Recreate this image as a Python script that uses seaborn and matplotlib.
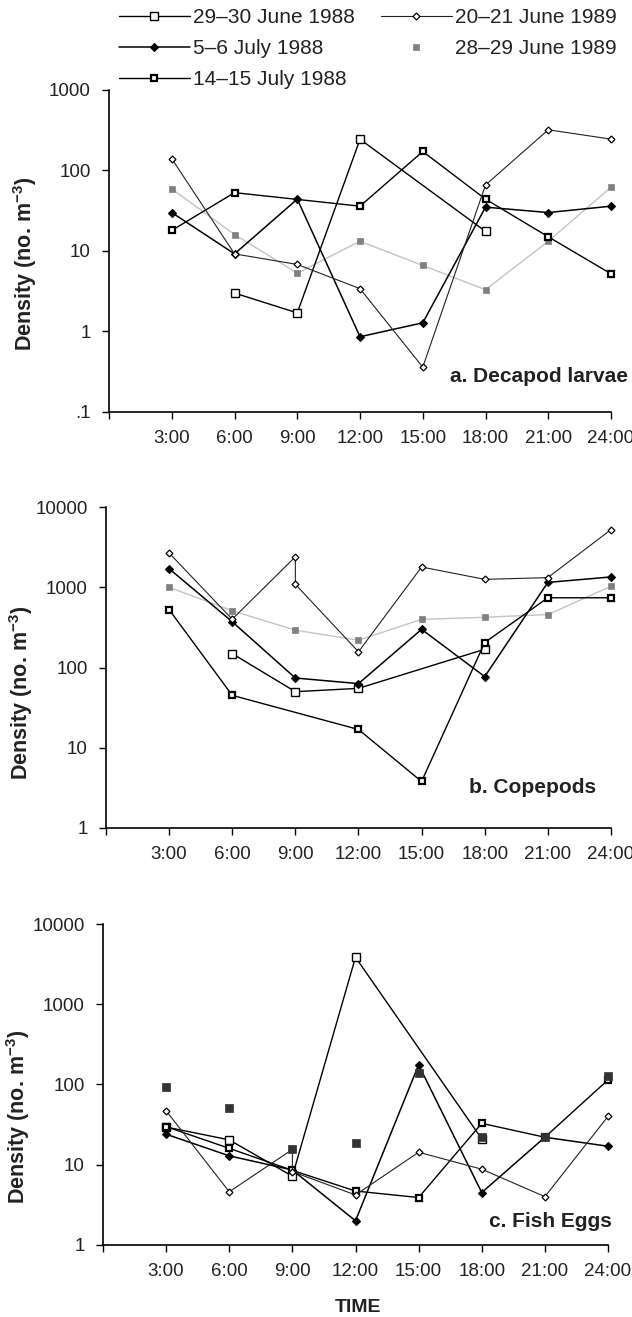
import matplotlib
matplotlib.use("Agg")
import matplotlib.pyplot as plt
from matplotlib.lines import Line2D
from matplotlib.ticker import NullLocator
import seaborn as sns

# --- data (densities, no. m^-3) ---
HOURS = [3, 6, 9, 12, 15, 18, 21, 24]
HOURS_9X2 = [3, 6, 9, 9, 12, 15, 18, 21, 24]   # 20-21 June 1989 sampled twice near 9:00
JUN88_HOURS_AB = [6, 9, 12, 18]
JUN88_HOURS_C = [3, 6, 9, 12, 18]
JUL14_HOURS_AB = [3, 6, 12, 15, 18, 21, 24]
TIME_LABELS = ["3:00", "6:00", "9:00", "12:00", "15:00", "18:00", "21:00", "24:00"]

SERIES = ["29\u201330 June 1988", "5\u20136 July 1988", "14\u201315 July 1988",
          "20\u201321 June 1989", "28\u201329 June 1989"]

# a. Decapod larvae
a_jun88 = [3.0, 1.7, 244, 17.5]
a_jul5 = [30, 9.2, 44, 0.86, 1.28, 35, 30, 36]
a_jul14 = [18, 53, 36, 172, 44, 15, 5.2]
a_jun20 = [140, 9.2, 6.8, 3.4, 0.36, 66, 320, 245]
a_jun28 = [59, 16, 5.3, 13.2, 6.6, 3.3, 13.2, 62]

# b. Copepods
b_jun88 = [149, 50, 55, 169]
b_jul5 = [1707, 372, 74, 63, 299, 77, 1150, 1345]
b_jul14 = [527, 45, 16.9, 3.8, 205, 740, 740]
b_jun20 = [2675, 400, 2400, 1090, 157, 1790, 1255, 1320, 5225]
b_jun28 = [1000, 510, 292, 219, 398, 423, 457, 1028]

# c. Fish eggs
c_jun88 = [29.5, 20.4, 7.2, 3850, 21]
c_jul5 = [24, 12.9, 8.6, 2.0, 176, 4.5, 22, 17]
c_jul14 = [29.8, 16, 8.5, 4.7, 3.9, 32.8, 22, 114]
c_jun20 = [47, 4.6, 15.5, 8.2, 4.2, 14.3, 8.8, 4.0, 40]
c_jun28 = [94, 51, 15.5, 18.5, 138, 22.4, 22, 126]

# --- styles ---
STYLES = {
    "jun88": dict(marker="s", markersize=5.5, markerfacecolor="white", markeredgecolor="black",
                  markeredgewidth=1.0, color="black", linewidth=1.0),
    "jul5": dict(marker="D", markersize=4, markerfacecolor="black", markeredgecolor="black",
                 markeredgewidth=0.8, color="black", linewidth=1.1),
    "jul14": dict(marker="s", markersize=4.5, markerfacecolor="white", markeredgecolor="black",
                  markeredgewidth=1.6, color="black", linewidth=1.0),
    "jun20": dict(marker="D", markersize=3.5, markerfacecolor="white", markeredgecolor="black",
                  markeredgewidth=0.9, color="#222222", linewidth=0.8),
    "jun28": dict(marker="s", markersize=5, markerfacecolor="#808080", markeredgecolor="#808080",
                  markeredgewidth=0.5, color="#c4c4c4", linewidth=1.0),
}

sns.set_style("ticks")
plt.rcParams["font.family"] = ["Liberation Sans", "DejaVu Sans"]
plt.rcParams["mathtext.default"] = "regular"


def draw(ax, x, y, key, z):
    sns.lineplot(x=x, y=y, ax=ax, estimator=None, sort=False, zorder=z,
                 clip_on=False, **STYLES[key])


def style_axes(ax, ticks, ticklabels, label_y, panel_text, tx, ty):
    ax.set_yscale("log")
    ax.set_ylim(ticks[0], ticks[-1])
    ax.set_xlim(0, 24)
    ax.set_yticks(ticks)
    ax.set_yticklabels(ticklabels)
    ax.yaxis.set_minor_locator(NullLocator())
    ax.set_xticks([0] + HOURS)
    ax.set_xticklabels([""] + TIME_LABELS)
    sns.despine(ax=ax)
    for s in ("left", "bottom"):
        ax.spines[s].set_linewidth(1.2)
        ax.spines[s].set_color("black")
    ax.tick_params(length=5, width=1, labelsize=13.5, pad=8, color="black", labelcolor="#222222")
    ax.set_xlabel("")
    ax.set_ylabel("Density (no. m$^{-3}$)", fontsize=15.5, fontweight="bold", color="#222222")
    ax.yaxis.set_label_coords(-0.14, label_y)
    ax.text(tx, ty, panel_text, transform=ax.transAxes, ha="right", va="center",
            fontsize=15, fontweight="bold", color="#222222")


fig = plt.figure(figsize=(6.32, 13.17), dpi=100)
ax_a = fig.add_axes([0.1725, 0.6872, 0.7943, 0.2445])
ax_b = fig.add_axes([0.1677, 0.3713, 0.799, 0.2437])
ax_c = fig.add_axes([0.1630, 0.0547, 0.799, 0.2437])

# panel a
draw(ax_a, HOURS, a_jun28, "jun28", 2)
draw(ax_a, JUN88_HOURS_AB, a_jun88, "jun88", 3)
draw(ax_a, HOURS, a_jul5, "jul5", 3)
draw(ax_a, JUL14_HOURS_AB, a_jul14, "jul14", 3)
draw(ax_a, HOURS, a_jun20, "jun20", 3)
style_axes(ax_a, [0.1, 1, 10, 100, 1000], [".1", "1", "10", "100", "1000"], 0.46,
           "a. Decapod larvae", 1.034, 0.11)

# panel b
draw(ax_b, HOURS, b_jun28, "jun28", 2)
draw(ax_b, JUN88_HOURS_AB, b_jun88, "jun88", 3)
draw(ax_b, HOURS, b_jul5, "jul5", 3)
draw(ax_b, JUL14_HOURS_AB, b_jul14, "jul14", 3)
draw(ax_b, HOURS_9X2, b_jun20, "jun20", 3)
style_axes(ax_b, [1, 10, 100, 1000, 10000], ["1", "10", "100", "1000", "10000"], 0.42,
           "b. Copepods", 0.97, 0.125)

# panel c
draw(ax_c, JUN88_HOURS_C, c_jun88, "jun88", 3)
draw(ax_c, HOURS, c_jul5, "jul5", 3)
draw(ax_c, HOURS, c_jul14, "jul14", 3)
draw(ax_c, HOURS_9X2, c_jun20, "jun20", 3)
sns.scatterplot(x=HOURS, y=c_jun28, ax=ax_c, marker="s", s=30, color="#333333",
                edgecolor="#333333", linewidth=0.5, zorder=4, clip_on=False)
style_axes(ax_c, [1, 10, 100, 1000, 10000], ["1", "10", "100", "1000", "10000"], 0.40,
           "c. Fish Eggs", 1.008, 0.072)

fig.text(358 / 632, 1 - 1307 / 1317, "TIME", ha="center", va="center",
         fontsize=14, fontweight="bold", color="#222222")

# legend
handles = []
for key in ["jun88", "jul5", "jul14", "jun20", "jun28"]:
    st = dict(STYLES[key])
    if key == "jun28":
        st["linestyle"] = "none"
    handles.append(Line2D([], [], **st))
fig.legend(handles, SERIES, loc="upper left", bbox_to_anchor=(119 / 632, 1 - 8 / 1317),
           ncol=2, frameon=False, fontsize=15, handlelength=3.4, handletextpad=0.15,
           columnspacing=1.25, labelspacing=0.58, borderpad=0, borderaxespad=0,
           labelcolor="#222222")

fig.savefig("out.png", dpi=100)
